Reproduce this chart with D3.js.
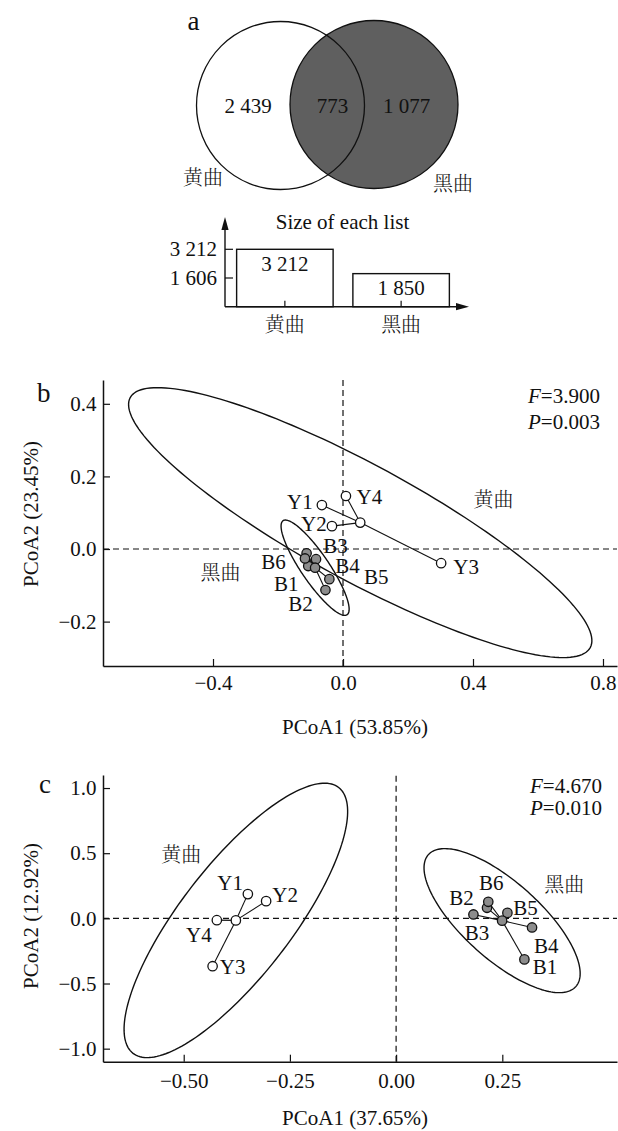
<!DOCTYPE html>
<html>
<head>
<meta charset="utf-8">
<script src="https://cdn.jsdelivr.net/npm/d3@7"></script>
<style>
  html, body { margin: 0; padding: 0; background: #fff; }
  svg { display: block; }
  text { font-family: "Liberation Serif", "Times New Roman", serif; fill: #111; }
  .cjk { font-family: "Noto Serif CJK SC", "Noto Sans CJK SC", sans-serif; font-weight: 300; }
</style>
</head>
<body>
<svg id="fig" width="618" height="1131"></svg>
<script>
// ---------- data ----------
const groups = ["黄曲", "黑曲"];

// Venn: unique to 黄曲, shared, unique to 黑曲
const vennCounts = [2439, 773, 1077];

// Panel b: PCoA scores
const bSamplesY = ["Y1", "Y2", "Y3", "Y4"];
const bY_pc1 = [-0.065, -0.034, 0.302, 0.009];
const bY_pc2 = [0.121, 0.063, -0.039, 0.146];
const bSamplesB = ["B1", "B2", "B3", "B4", "B5", "B6"];
const bB_pc1 = [-0.107, -0.054, -0.112, -0.083, -0.042, -0.117];
const bB_pc2 = [-0.047, -0.113, -0.012, -0.028, -0.083, -0.026];
const bAxisTitles = ["PCoA1 (53.85%)", "PCoA2 (23.45%)"];
const bTicksX = [-0.4, 0.0, 0.4, 0.8];
const bTicksY = [-0.2, 0.0, 0.2, 0.4];
const bStats = { F: "3.900", P: "0.003" };
// confidence ellipses as two conjugate semi-axis vectors (PC1, PC2 units) around the group centroid
const bEllipseY = { u: [0.7077, -0.3444], v: [0.0852, 0.1402] };
const bEllipseB = { u: [0.0985, -0.1295], v: [0.0356, 0.0217] };

// Panel c: PCoA scores
const cSamplesY = ["Y1", "Y2", "Y3", "Y4"];
const cY_pc1 = [-0.349, -0.306, -0.432, -0.422];
const cY_pc2 = [0.186, 0.132, -0.367, -0.014];
const cSamplesB = ["B1", "B2", "B3", "B4", "B5", "B6"];
const cB_pc1 = [0.302, 0.182, 0.214, 0.320, 0.262, 0.217];
const cB_pc2 = [-0.315, 0.030, 0.081, -0.070, 0.042, 0.127];
const cAxisTitles = ["PCoA1 (37.65%)", "PCoA2 (12.92%)"];
const cTicksX = [-0.5, -0.25, 0.0, 0.25];
const cTicksY = [-1.0, -0.5, 0.0, 0.5, 1.0];
const cStats = { F: "4.670", P: "0.010" };
const cEllipseY = { u: [0.242, 1.020], v: [0.1034, -0.261] };
const cEllipseB = { u: [0.1735, -0.5065], v: [0.0606, 0.221] };

// ---------- helpers ----------
const svg = d3.select("#fig");
const INK = "#111";
const FS = 21;
const numFmt = d3.formatLocale({ decimal: ".", thousands: " ", grouping: [3], currency: ["", ""], minus: "\u2212" }).format(",d");

function txt(g, x, y, s, opts = {}) {
  const t = g.append("text").attr("x", x).attr("y", y).text(s)
    .attr("font-size", opts.size || FS)
    .attr("text-anchor", opts.anchor || "middle");
  if (opts.dy) t.attr("dy", opts.dy);
  if (opts.cls) t.attr("class", opts.cls);
  return t;
}

// ---------- panel a: Venn ----------
const gA = svg.append("g");
const venn = [
  { cx: 280.5, cy: 105.5, r: 84, fill: "#ffffff" },
  { cx: 374, cy: 104.5, r: 84, fill: "#5f5f5f" }
];
gA.selectAll("circle.fill").data(venn).join("circle")
  .attr("cx", d => d.cx).attr("cy", d => d.cy).attr("r", d => d.r)
  .attr("fill", d => d.fill).attr("stroke", "none");
gA.selectAll("circle.edge").data(venn).join("circle")
  .attr("cx", d => d.cx).attr("cy", d => d.cy).attr("r", d => d.r)
  .attr("fill", "none").attr("stroke", INK).attr("stroke-width", 1.3);

txt(gA, 193.5, 30, "a", { size: 27 });
const vennX = [248, 332.5, 406.5];
vennCounts.forEach((v, i) => txt(gA, vennX[i], 106, numFmt(v), { dy: "0.34em" }));
txt(gA, 203, 177.5, groups[0], { size: 20, dy: "0.36em", cls: "cjk" });
txt(gA, 453, 184, groups[1], { size: 20, dy: "0.36em", cls: "cjk" });

// list sizes per group
const listSizes = [vennCounts[0] + vennCounts[1], vennCounts[1] + vennCounts[2]];
const xBar = d3.scaleBand().domain(groups).range([225, 461]).paddingInner(0.17).paddingOuter(0.1);
const yBar = d3.scaleLinear().domain([0, d3.max(listSizes)]).range([306.7, 249.3]);
const barTicks = [d3.max(listSizes) / 2, d3.max(listSizes)];

txt(gA, 342.5, 229, "Size of each list");
gA.selectAll("rect.bar").data(groups).join("rect")
  .attr("x", d => xBar(d)).attr("width", xBar.bandwidth())
  .attr("y", (d, i) => yBar(listSizes[i]))
  .attr("height", (d, i) => yBar(0) - yBar(listSizes[i]))
  .attr("fill", "none").attr("stroke", INK).attr("stroke-width", 1.4);
groups.forEach((g, i) => {
  txt(gA, xBar(g) + xBar.bandwidth() / 2, yBar(listSizes[i]) + 21.5, numFmt(listSizes[i]));
  txt(gA, xBar(g) + xBar.bandwidth() / 2, 325, g, { size: 20, dy: "0.36em", cls: "cjk" });
  const cx = xBar(g) + xBar.bandwidth() / 2;
  gA.append("line").attr("x1", cx).attr("x2", cx).attr("y1", yBar(0)).attr("y2", yBar(0) - 6)
    .attr("stroke", INK).attr("stroke-width", 1.2);
});
// axes with arrow heads
const x0 = 225, y0 = yBar(0);
gA.append("line").attr("x1", x0).attr("x2", x0).attr("y1", y0).attr("y2", 226)
  .attr("stroke", INK).attr("stroke-width", 1.4);
gA.append("path").attr("d", `M${x0},217 L${x0 - 3.6},230 L${x0 + 3.6},230 Z`).attr("fill", INK);
gA.append("line").attr("x1", x0).attr("x2", 459).attr("y1", y0).attr("y2", y0)
  .attr("stroke", INK).attr("stroke-width", 1.4);
gA.append("path").attr("d", `M469,${y0} L456,${y0 - 3.6} L456,${y0 + 3.6} Z`).attr("fill", INK);
barTicks.forEach(v => {
  gA.append("line").attr("x1", x0).attr("x2", x0 + 8).attr("y1", yBar(v)).attr("y2", yBar(v))
    .attr("stroke", INK).attr("stroke-width", 1.2);
  txt(gA, 217, yBar(v), numFmt(v), { anchor: "end", dy: "0.34em" });
});

// ---------- PCoA panels ----------
function ellipsePath(c, e, x, y) {
  const pts = d3.range(0, 360, 2).map(a => {
    const t = a * Math.PI / 180;
    return [x(c[0] + Math.cos(t) * e.u[0] + Math.sin(t) * e.v[0]),
            y(c[1] + Math.cos(t) * e.u[1] + Math.sin(t) * e.v[1])];
  });
  return d3.line().curve(d3.curveLinearClosed)(pts);
}

function drawPCoA(cfg) {
  const g = svg.append("g");
  const x = d3.scaleLinear().domain(cfg.xDomain).range([103, 617]);
  const y = d3.scaleLinear().domain(cfg.yDomain).range([cfg.bottom, cfg.top]);

  // reference lines at the origin
  g.append("line").attr("x1", x.range()[0]).attr("x2", x.range()[1]).attr("y1", y(0)).attr("y2", y(0))
    .attr("stroke", INK).attr("stroke-width", 1.2).attr("stroke-dasharray", "6,4");
  g.append("line").attr("x1", x(0)).attr("x2", x(0)).attr("y1", y.range()[0]).attr("y2", y.range()[1])
    .attr("stroke", INK).attr("stroke-width", 1.2).attr("stroke-dasharray", "6,4");

  cfg.sets.forEach(s => {
    const pts = s.names.map((n, i) => ({ name: n, px: s.pc1[i], py: s.pc2[i] }));
    const c = [d3.mean(pts, d => d.px), d3.mean(pts, d => d.py)];
    g.append("path").attr("d", ellipsePath(c, s.ellipse, x, y))
      .attr("fill", "none").attr("stroke", INK).attr("stroke-width", 1.4);
    g.selectAll(null).data(pts).join("line")
      .attr("x1", x(c[0])).attr("y1", y(c[1]))
      .attr("x2", d => x(d.px)).attr("y2", d => y(d.py))
      .attr("stroke", INK).attr("stroke-width", 1.1);
    g.selectAll(null).data(pts.concat([{ name: "", px: c[0], py: c[1] }])).join("circle")
      .attr("cx", d => x(d.px)).attr("cy", d => y(d.py)).attr("r", 4.7)
      .attr("fill", s.fill).attr("stroke", INK).attr("stroke-width", 1.3);
    pts.forEach(d => {
      const o = s.offsets[d.name];
      txt(g, x(d.px) + o[0], y(d.py) + o[1], d.name, { dy: "0.35em" });
    });
    txt(g, x(s.labelAt[0]), y(s.labelAt[1]), s.group, { size: 20, dy: "0.36em", cls: "cjk" });
  });

  // axes
  const ax = g.append("g").attr("transform", `translate(0,${cfg.bottom})`)
    .call(d3.axisBottom(x).tickValues(cfg.ticksX).tickFormat(d3.format(cfg.fmtX))
      .tickSizeInner(-7).tickSizeOuter(0).tickPadding(cfg.padX));
  const ay = g.append("g").attr("transform", "translate(103,0)")
    .call(d3.axisLeft(y).tickValues(cfg.ticksY).tickFormat(d3.format(".1f"))
      .tickSizeInner(-7).tickSizeOuter(0).tickPadding(6.5));
  [ax, ay].forEach(a => {
    a.attr("font-family", null).attr("font-size", FS);
    a.select(".domain").attr("stroke", INK).attr("stroke-width", 1.5);
    a.selectAll(".tick line").attr("stroke", INK).attr("stroke-width", 1.2);
    a.selectAll(".tick text").attr("fill", INK);
  });

  txt(g, 355, cfg.xTitleY, cfg.titles[0], { dy: "0.35em" });
  txt(g, 0, 0, cfg.titles[1], { dy: "0.35em" })
    .attr("transform", `translate(31,${cfg.yTitleY}) rotate(-90)`);

  txt(g, cfg.letterX, cfg.letterY, cfg.letter, { size: 27, anchor: "start" });

  const f = txt(g, cfg.statX, cfg.statY[0], "", { anchor: "start" });
  f.append("tspan").attr("font-style", "italic").text("F");
  f.append("tspan").text("=" + cfg.stats.F);
  const p = txt(g, cfg.statX, cfg.statY[1], "", { anchor: "start" });
  p.append("tspan").attr("font-style", "italic").text("P");
  p.append("tspan").text("=" + cfg.stats.P);
}

drawPCoA({
  xDomain: [-0.7385, 0.8431], yDomain: [-0.3223, 0.4656], top: 380, bottom: 666,
  ticksX: bTicksX, ticksY: bTicksY, fmtX: ".1f", padX: 9,
  titles: bAxisTitles, xTitleY: 727, yTitleY: 514,
  letter: "b", letterX: 37, letterY: 402,
  stats: bStats, statX: 528, statY: [403, 429],
  sets: [
    { names: bSamplesY, pc1: bY_pc1, pc2: bY_pc2, ellipse: bEllipseY, fill: "#ffffff",
      group: groups[0], labelAt: [0.463, 0.135],
      offsets: { Y1: [-22, -3], Y2: [-18, -2], Y3: [25, 3], Y4: [23.5, 0.5] } },
    { names: bSamplesB, pc1: bB_pc1, pc2: bB_pc2, ellipse: bEllipseB, fill: "#8c8c8c",
      group: groups[1], labelAt: [-0.377, -0.066],
      offsets: { B1: [-22, 17.5], B2: [-25, 14], B3: [29, -8], B4: [31.5, 6.5], B5: [47, -2.3], B6: [-31.5, 3] } }
  ]
});

drawPCoA({
  xDomain: [-0.690, 0.520], yDomain: [-1.1, 1.1], top: 775, bottom: 1061.7,
  ticksX: cTicksX, ticksY: cTicksY, fmtX: ".2f", padX: 11,
  titles: cAxisTitles, xTitleY: 1118, yTitleY: 916,
  letter: "c", letterX: 39, letterY: 793,
  stats: cStats, statX: 530, statY: [793, 815],
  sets: [
    { names: cSamplesY, pc1: cY_pc1, pc2: cY_pc2, ellipse: cEllipseY, fill: "#ffffff",
      group: groups[0], labelAt: [-0.506, 0.486],
      offsets: { Y1: [-17.7, -11], Y2: [19, -6], Y3: [20, 0], Y4: [-18, 14] } },
    { names: cSamplesB, pc1: cB_pc1, pc2: cB_pc2, ellipse: cEllipseB, fill: "#8c8c8c",
      group: groups[1], labelAt: [0.396, 0.256],
      offsets: { B1: [20.7, 7.7], B2: [-12, -17], B3: [-10, 25], B4: [14.3, 17.7], B5: [18, -5.7], B6: [3, -18.7] } }
  ]
});
</script>
</body>
</html>
